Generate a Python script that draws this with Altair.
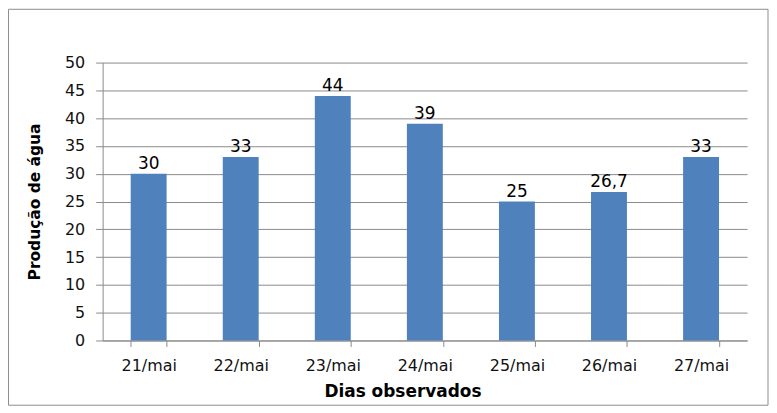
import altair as alt
import pandas as pd

dias = ["21/mai", "22/mai", "23/mai", "24/mai", "25/mai", "26/mai", "27/mai"]
producao = [30, 33, 44, 39, 25, 26.7, 33]
rotulos = ["30", "33", "44", "39", "25", "26,7", "33"]
y_ticks = [0, 5, 10, 15, 20, 25, 30, 35, 40, 45, 50]

df = pd.DataFrame({"dia": dias, "valor": producao, "rotulo": rotulos})

FONT = "DejaVu Sans"
BAR = "#4F81BD"
GRID = "#8a8a8a"

x = alt.X("dia:N", sort=dias,
          scale=alt.Scale(paddingInner=0.61, paddingOuter=0.305),
          axis=alt.Axis(title="Dias observados", labelAngle=0, tickBand="extent",
                        tickSize=6, tickColor=GRID, domainColor=GRID,
                        labelFont=FONT, labelFontSize=16, labelColor="#111111",
                        labelPadding=11,
                        titleFont=FONT, titleFontSize=17, titleFontWeight="bold",
                        titleColor="#000000", titleX=301, titleY=51,
                        titleBaseline="middle", titleAnchor="start", titleAlign="center"))

y = alt.Y("valor:Q",
          scale=alt.Scale(domain=[0, 50], nice=False),
          axis=alt.Axis(title="Produção de água", values=y_ticks, labelOverlap=False,
                        tickSize=7, tickColor=GRID, domainColor=GRID,
                        gridColor=GRID, gridOpacity=1,
                        labelFont=FONT, labelFontSize=16, labelColor="#111111",
                        labelPadding=11,
                        titleFont=FONT, titleFontSize=15.5, titleFontWeight="bold",
                        titleColor="#000000", titleX=-68, titleY=139.5,
                        titleAngle=-90, titleBaseline="middle", titleAlign="center",
                        titleAnchor="start"))

bars = alt.Chart(df).mark_bar(color=BAR).encode(x=x, y=y)

labels = alt.Chart(df).mark_text(font=FONT, fontSize=17, color="#000000",
                                 baseline="alphabetic", dy=-5).encode(
    x=x, y=y, text="rotulo:N")

border = alt.Chart(pd.DataFrame({"k": [0]})).mark_rect(
    fillOpacity=0, stroke="#8c8c8c", strokeWidth=1).encode(
    x=alt.value(-94.5), x2=alt.value(668), y=alt.value(-53.5), y2=alt.value(344))

chart = alt.layer(border, bars, labels).properties(
    width=647, height=279,
    autosize=alt.AutoSizeParams(type="none"),
    padding={"left": 95, "top": 54, "right": 22, "bottom": 66},
).configure_view(stroke=None).configure_axisX(grid=False)

chart.save("out.html", embed_options={"renderer": "svg", "actions": False})
